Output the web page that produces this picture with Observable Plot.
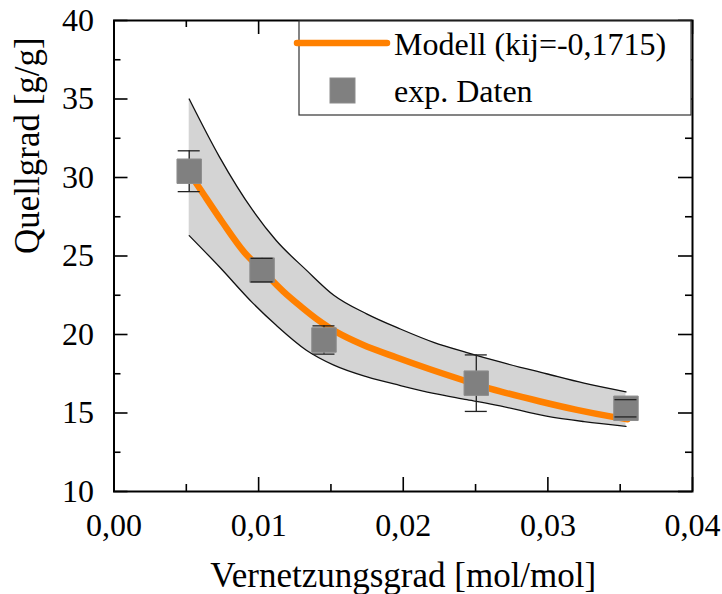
<!DOCTYPE html>
<html>
<head>
<meta charset="utf-8">
<script src="https://cdn.jsdelivr.net/npm/d3@7"></script>
<script src="https://cdn.jsdelivr.net/npm/@observablehq/plot@0.6"></script>
<style>
  html, body { margin: 0; padding: 0; background: #fff; }
</style>
</head>
<body>
<div id="chart"></div>
<script>
// Experimental swelling degree with standard deviation
const pointX = [0.0052, 0.01024, 0.01452, 0.02505, 0.0354];
const pointY = [30.4, 24.1, 19.65, 16.9, 15.3];
const pointErr = [1.3, 0.75, 0.9, 1.8, 0.55];

// Model curve (kij = -0.1715)
const modelX = [0.0052, 0.006, 0.0075, 0.009, 0.01024, 0.0117, 0.0129, 0.014, 0.0154, 0.0172, 0.0195, 0.0218, 0.0241, 0.026, 0.0294, 0.032, 0.0345, 0.0355];
const modelY = [30.3, 29.2, 27.15, 25.25, 24.1, 22.75, 21.8, 21.0, 20.15, 19.35, 18.55, 17.8, 17.1, 16.55, 15.75, 15.2, 14.75, 14.6];

// Uncertainty band of the model
const bandX = [0.0052, 0.0073, 0.0096, 0.0112, 0.0133, 0.0152, 0.0175, 0.0198, 0.0221, 0.0244, 0.0267, 0.0299, 0.0325, 0.0354];
const bandHigh = [35.0, 31.3, 27.9, 26.0, 24.1, 22.5, 21.3, 20.35, 19.5, 18.85, 18.25, 17.5, 16.9, 16.35];
const bandLow = [26.3, 24.3, 22.0, 20.6, 19.0, 18.05, 17.3, 16.75, 16.25, 15.85, 15.45, 14.8, 14.45, 14.15];

// Axes
const xTicks = [0, 0.01, 0.02, 0.03, 0.04];
const xMinorTicks = [0.005, 0.015, 0.025, 0.035];
const yTicks = [10, 15, 20, 25, 30, 35, 40];
const yMinorTicks = [12.5, 17.5, 22.5, 27.5, 32.5, 37.5];
const xLabel = "Vernetzungsgrad [mol/mol]";
const yLabel = "Quellgrad [g/g]";
const legendLabels = ["Modell (kij=-0,1715)", "exp. Daten"];

// Layout
const W = 722, H = 594;
const M = {top: 20, right: 30, bottom: 103, left: 113.5};
const frameW = W - M.left - M.right;
const frameH = H - M.top - M.bottom;
const MAJOR = 14, MINOR = 7;
const ORANGE = "#ff8000";
const FONT = "'Liberation Serif', 'Times New Roman', serif";

const de = d3.formatLocale({decimal: ",", thousands: ".", grouping: [3], currency: ["", " €"]});
const fmtX = de.format(".2f");

const points = pointX.map((x, i) => ({x, y: pointY[i], lo: pointY[i] - pointErr[i], hi: pointY[i] + pointErr[i]}));
const model = modelX.map((x, i) => ({x, y: modelY[i]}));
const band = bandX.map((x, i) => ({x, lo: bandLow[i], hi: bandHigh[i]}));

// inward ticks on all four sides of the frame
function xTickMarks(values, len) {
  return [
    Plot.ruleX(values, {x: d => d, insetTop: frameH - len, stroke: "black", strokeWidth: 1.6}),
    Plot.ruleX(values, {x: d => d, insetBottom: frameH - len, stroke: "black", strokeWidth: 1.6})
  ];
}
function yTickMarks(values, len) {
  return [
    Plot.ruleY(values, {y: d => d, insetRight: frameW - len, stroke: "black", strokeWidth: 1.6}),
    Plot.ruleY(values, {y: d => d, insetLeft: frameW - len, stroke: "black", strokeWidth: 1.6})
  ];
}

const plot = Plot.plot({
  width: W,
  height: H,
  marginTop: M.top,
  marginRight: M.right,
  marginBottom: M.bottom,
  marginLeft: M.left,
  style: {fontFamily: FONT, fontSize: "32px", color: "black", background: "white"},
  x: {domain: [0, 0.04], ticks: xTicks, tickFormat: fmtX, tickSize: 0, tickPadding: 22, label: null},
  y: {domain: [10, 40], ticks: yTicks, tickSize: 0, tickPadding: 20, label: null},
  marks: [
    Plot.areaY(band, {x: "x", y1: "lo", y2: "hi", fill: "#d4d4d4", curve: "monotone-x"}),
    Plot.line(band, {x: "x", y: "hi", stroke: "#111", strokeWidth: 1.3, curve: "monotone-x"}),
    Plot.line(band, {x: "x", y: "lo", stroke: "#111", strokeWidth: 1.3, curve: "monotone-x"}),
    Plot.line(model, {x: "x", y: "y", stroke: ORANGE, strokeWidth: 6.5, curve: "catmull-rom"}),
    Plot.ruleX(points, {x: "x", y1: "lo", y2: "hi", stroke: "#222", strokeWidth: 1.3}),
    Plot.dot(points, {x: "x", y: "y", symbol: "square", r: 13.8, fill: "#808080", stroke: "#8c8c8c", strokeWidth: 1}),
    Plot.ruleY(points, {y: "hi", x1: "x", x2: "x", insetLeft: -11, insetRight: -11, stroke: "#222", strokeWidth: 1.3}),
    Plot.ruleY(points, {y: "lo", x1: "x", x2: "x", insetLeft: -11, insetRight: -11, stroke: "#222", strokeWidth: 1.3}),
    Plot.frame({stroke: "black", strokeWidth: 2}),
    ...xTickMarks(xTicks, MAJOR),
    ...xTickMarks(xMinorTicks, MINOR),
    ...yTickMarks(yTicks, MAJOR),
    ...yTickMarks(yMinorTicks, MINOR),
    Plot.text([xLabel], {text: d => d, frameAnchor: "bottom", dy: 95, fontSize: 35}),
    Plot.text([yLabel], {text: d => d, frameAnchor: "left", rotate: -90, dx: -86, dy: -2, fontSize: 35})
  ]
});

// Legend box in the upper right corner of the frame
const svg = d3.select(plot);
const lg = svg.append("g")
  .attr("font-family", FONT).attr("font-size", 32)
  .attr("fill", "black").attr("text-anchor", "start");
const boxRight = W - M.right - 1;
const boxLeft = boxRight - 392;
const boxTop = M.top + 1;
const boxH = 94;
lg.append("rect")
  .attr("x", boxLeft).attr("y", boxTop)
  .attr("width", boxRight - boxLeft).attr("height", boxH)
  .attr("fill", "white").attr("stroke", "#333").attr("stroke-width", 1.2);
lg.append("line")
  .attr("x1", boxLeft - 2).attr("x2", boxLeft + 88)
  .attr("y1", boxTop + 22).attr("y2", boxTop + 22)
  .attr("stroke", ORANGE).attr("stroke-width", 6.5).attr("stroke-linecap", "round");
lg.append("rect")
  .attr("x", boxLeft + 31).attr("y", boxTop + 57)
  .attr("width", 25).attr("height", 25)
  .attr("fill", "#808080").attr("stroke", "#8c8c8c").attr("stroke-width", 1);
lg.append("text").attr("x", boxLeft + 95).attr("y", boxTop + 34).attr("text-anchor", "start").text(legendLabels[0]);
lg.append("text").attr("x", boxLeft + 95).attr("y", boxTop + 81).attr("text-anchor", "start").text(legendLabels[1]);

document.getElementById("chart").appendChild(plot);
</script>
</body>
</html>
